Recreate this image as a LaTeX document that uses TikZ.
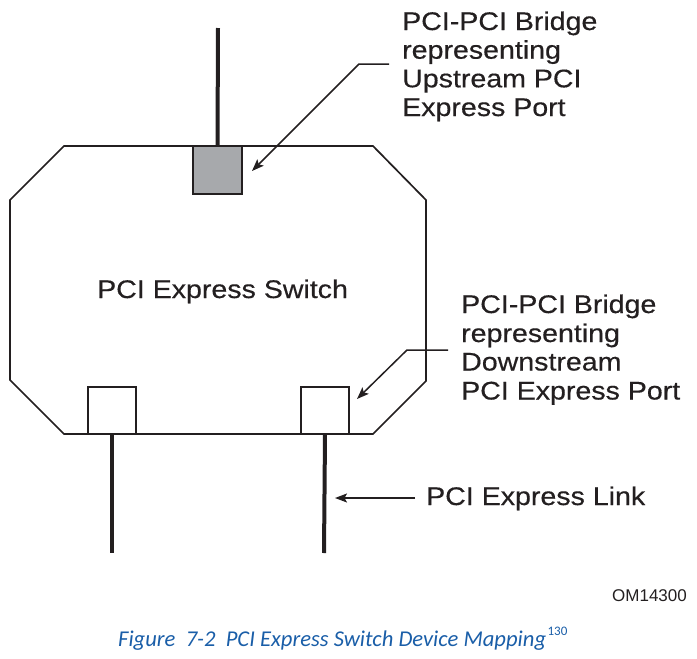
\documentclass[tikz,border=0pt]{standalone}
\usepackage{fontspec}
\usetikzlibrary{arrows.meta}
\newfontfamily\lblfont{Liberation Sans}[FakeStretch=1.12,FakeBold=0.4]
\newfontfamily\omfont{Liberation Sans}
\newfontfamily\capfont{Carlito}
\definecolor{ink}{HTML}{231F20}
\definecolor{portgray}{HTML}{A7A9AC}
\definecolor{capblue}{HTML}{1A5EA8}
\tikzset{
  outline/.style={draw=ink, line width=1.7pt, line join=miter},
  portbox/.style={draw=ink, line width=1.8pt, inner sep=0pt, minimum width=48pt, minimum height=47pt},
  link/.style={draw=ink, line width=4pt},
  leader/.style={draw=ink, line width=1.5pt, -{Stealth[length=12pt,width=9pt,inset=2.5pt]}},
  lbl/.style={anchor=base west, inner sep=0pt, text=ink, font=\lblfont\fontsize{25.5}{29}\selectfont},
  omlbl/.style={anchor=base west, inner sep=0pt, text=ink, font=\omfont\fontsize{17}{20}\selectfont},
  caplbl/.style={anchor=base west, inner sep=0pt, text=capblue, font=\capfont\itshape\fontsize{22.6}{26}\selectfont},
  suplbl/.style={anchor=base west, inner sep=0pt, text=capblue, font=\capfont\fontsize{13}{15}\selectfont}
}
\begin{document}
\begin{tikzpicture}[x=1pt,y=-1pt]
\useasboundingbox (0,0) rectangle (697,659);
% switch outline
\draw[outline] (64,146) -- (373,146) -- (426,200) -- (426,381) -- (373,434) -- (64,434) -- (10,380) -- (10,200) -- cycle;
% port boxes
\node[portbox, fill=portgray, minimum width=49pt, minimum height=48pt] (up) at (217.5,170) {};
\node[portbox] (dl) at (112,410.5) {};
\node[portbox] (dr) at (325,410.5) {};
% links
\coordinate (uptop) at (218,28);
\coordinate (dlbot) at (112,553);
\coordinate (drbot) at (324,553);
\draw[link] (uptop) -- (up.north);
\draw[link] (dl.south) -- (dlbot);
\draw[link] (dr.south) -- (drbot);
% leaders
\coordinate (uA) at (389,64);
\coordinate (uB) at (359,64);
\coordinate (uC) at (252,171);
\draw[leader] (uA) -- (uB) -- (uC);
\coordinate (dA) at (448,350);
\coordinate (dB) at (407,350);
\coordinate (dC) at (357,399);
\draw[leader] (dA) -- (dB) -- (dC);
\coordinate (lA) at (415,498);
\coordinate (lB) at (335,498);
\draw[leader] (lA) -- (lB);
% labels
\node[lbl] (u1) at (402,30) {PCI-PCI Bridge};
\node[lbl] (u2) at (402,58.7) {representing};
\node[lbl] (u3) at (402,87.3) {Upstream PCI};
\node[lbl] (u4) at (402,116) {Express Port};
\node[lbl] (d1) at (461,313) {PCI-PCI Bridge};
\node[lbl] (d2) at (461,342) {representing};
\node[lbl] (d3) at (461,370.5) {Downstream};
\node[lbl] (d4) at (461,399.5) {PCI Express Port};
\node[lbl] (sw) at (97,298) {PCI Express Switch};
\node[lbl] (lk) at (426,505) {PCI Express Link};
\node[omlbl] (om) at (612,601) {OM14300};
\node[caplbl] (cap) at (118,646) {Figure\ \ 7-2\ \ PCI Express Switch Device Mapping};
\node[suplbl] (sup) at (cap.base east) [anchor=base west, xshift=1pt, yshift=11pt] {130};
\end{tikzpicture}
\end{document}
